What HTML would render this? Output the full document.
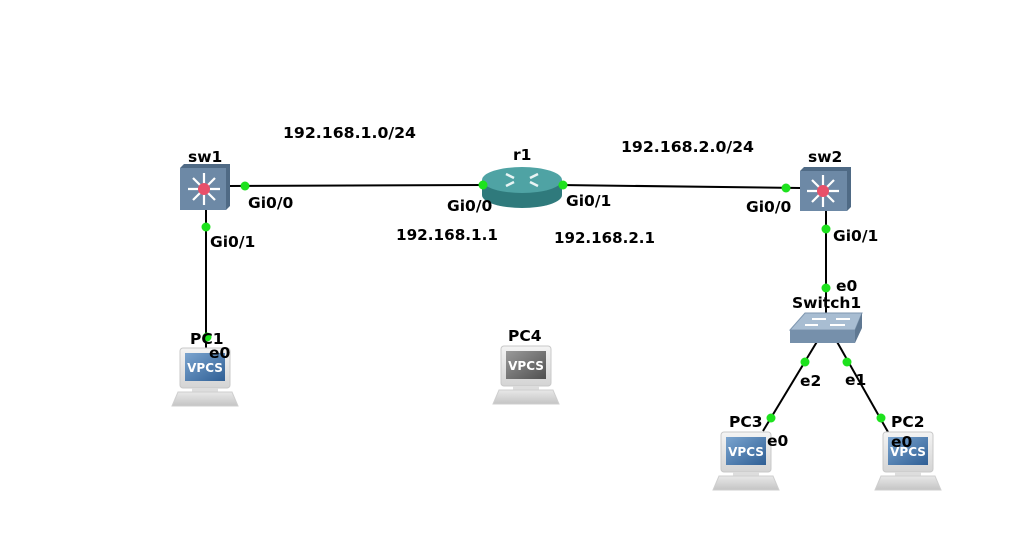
<!DOCTYPE html>
<html><head><meta charset="utf-8"><style>
html,body{margin:0;padding:0;background:#fff;width:1036px;height:535px;overflow:hidden}
text{font-family:"DejaVu Sans","Liberation Sans",sans-serif;font-weight:bold;font-size:15.5px;fill:#000}
</style></head><body>
<svg width="1036" height="535" xmlns="http://www.w3.org/2000/svg">
<defs>
<linearGradient id="mon" x1="0" y1="0" x2="0" y2="1"><stop offset="0" stop-color="#f4f4f4"/><stop offset="1" stop-color="#d4d4d4"/></linearGradient>
<linearGradient id="scrB" x1="0" y1="0" x2="1" y2="1"><stop offset="0" stop-color="#7aa4cf"/><stop offset="1" stop-color="#2f5f95"/></linearGradient>
<linearGradient id="scrG" x1="0" y1="0" x2="1" y2="1"><stop offset="0" stop-color="#9a9a9a"/><stop offset="1" stop-color="#505050"/></linearGradient>
<linearGradient id="base" x1="0" y1="0" x2="0" y2="1"><stop offset="0" stop-color="#e8e8e8"/><stop offset="1" stop-color="#c4c4c4"/></linearGradient>
<g id="pcbody">
<rect x="8" y="0" width="50" height="40" rx="3" fill="url(#mon)" stroke="#c8c8c8"/>
<rect x="20" y="40" width="26" height="4" fill="#ddd"/>
<path d="M6 44 H60 L66 58 H0 Z" fill="url(#base)" stroke="#cfcfcf"/>
</g>
<g id="arrows" stroke="#fff" stroke-width="2.2" fill="none">
<path d="M-16 0 H16 M0 -16 V16 M-11 -11 L11 11 M-11 11 L11 -11"/>
</g>
</defs>

<g stroke="#000" stroke-width="2" fill="none">
<line x1="229" y1="186" x2="483" y2="185"/>
<line x1="560" y1="185" x2="800" y2="188"/>
<line x1="206" y1="210" x2="206" y2="350"/>
<line x1="826" y1="211" x2="826" y2="318"/>
<line x1="818" y1="340" x2="763" y2="431"/>
<line x1="836" y1="340" x2="888" y2="432"/>
</g>

<g>
<path d="M180 168 L184 164 H230 V206 L226 210 H180 Z" fill="#4f6a85"/>
<rect x="180" y="168" width="46" height="42" fill="#6d89a6"/>
<g transform="translate(204,189)"><use href="#arrows"/></g>
<circle cx="204" cy="189" r="6" fill="#e8506a"/>
</g>
<g>
<path d="M800 171 L804 167 H851 V207 L847 211 H800 Z" fill="#4f6a85"/>
<rect x="800" y="171" width="47" height="40" fill="#6d89a6"/>
<g transform="translate(823,191)"><use href="#arrows"/></g>
<circle cx="823" cy="191" r="6" fill="#e8506a"/>
</g>
<g>
<path d="M482 180 V195 A40 13 0 0 0 562 195 V180 Z" fill="#2f7a7c"/>
<ellipse cx="522" cy="180" rx="40" ry="13" fill="#4fa3a4"/>
<g stroke="#e8f4f4" stroke-width="2.5" fill="none">
<path d="M506 174 L514 178 M538 174 L530 178 M506 186 L514 182 M538 186 L530 182"/>
</g>
</g>
<g>
<path d="M790 330 L805 313 H862 L855 330 Z" fill="#a8bdd2" stroke="#7f97b0"/>
<path d="M790 330 H855 V343 H790 Z" fill="#7690ab"/>
<path d="M855 330 L862 313 V328 L855 343 Z" fill="#5f7892"/>
<g stroke="#fff" stroke-width="2"><path d="M812 319 H826 M836 319 H850 M805 325 H818 M830 325 H845"/></g>
</g>

<g transform="translate(172,348)"><use href="#pcbody"/><rect x="13" y="5" width="40" height="28" fill="url(#scrB)"/><text x="33" y="24" text-anchor="middle" style="fill:#fff;font-size:12px">VPCS</text></g>
<g transform="translate(493,346)"><use href="#pcbody"/><rect x="13" y="5" width="40" height="28" fill="url(#scrG)"/><text x="33" y="24" text-anchor="middle" style="fill:#fff;font-size:12px">VPCS</text></g>
<g transform="translate(713,432)"><use href="#pcbody"/><rect x="13" y="5" width="40" height="28" fill="url(#scrB)"/><text x="33" y="24" text-anchor="middle" style="fill:#fff;font-size:12px">VPCS</text></g>
<g transform="translate(875,432)"><use href="#pcbody"/><rect x="13" y="5" width="40" height="28" fill="url(#scrB)"/><text x="33" y="24" text-anchor="middle" style="fill:#fff;font-size:12px">VPCS</text></g>

<g fill="#1de21d">
<circle cx="245" cy="186" r="4.5"/><circle cx="483" cy="185" r="4.5"/><circle cx="563" cy="185" r="4.5"/><circle cx="786" cy="188" r="4.5"/>
<circle cx="206" cy="227" r="4.5"/><circle cx="207" cy="337" r="4.5"/>
<circle cx="826" cy="229" r="4.5"/><circle cx="826" cy="288" r="4.5"/>
<circle cx="805" cy="362" r="4.5"/><circle cx="847" cy="362" r="4.5"/>
<circle cx="771" cy="418" r="4.5"/><circle cx="881" cy="418" r="4.5"/>
</g>

<text x="283" y="138" textLength="133" lengthAdjust="spacingAndGlyphs">192.168.1.0/24</text>
<text x="621" y="152" textLength="133" lengthAdjust="spacingAndGlyphs">192.168.2.0/24</text>
<text x="396" y="240" textLength="102" lengthAdjust="spacingAndGlyphs">192.168.1.1</text>
<text x="554" y="243" textLength="101" lengthAdjust="spacingAndGlyphs">192.168.2.1</text>
<text x="188" y="162">sw1</text>
<text x="513" y="160">r1</text>
<text x="808" y="162">sw2</text>
<text x="248" y="208">Gi0/0</text>
<text x="447" y="211">Gi0/0</text>
<text x="566" y="206">Gi0/1</text>
<text x="746" y="212">Gi0/0</text>
<text x="210" y="247">Gi0/1</text>
<text x="833" y="241">Gi0/1</text>
<text x="836" y="291">e0</text>
<text x="792" y="308">Switch1</text>
<text x="800" y="386">e2</text>
<text x="845" y="385">e1</text>
<text x="729" y="427">PC3</text>
<text x="767" y="446">e0</text>
<text x="891" y="427">PC2</text>
<text x="891" y="447">e0</text>
<text x="190" y="344">PC1</text>
<text x="209" y="358">e0</text>
<text x="508" y="341">PC4</text>
</svg>
</body></html>
